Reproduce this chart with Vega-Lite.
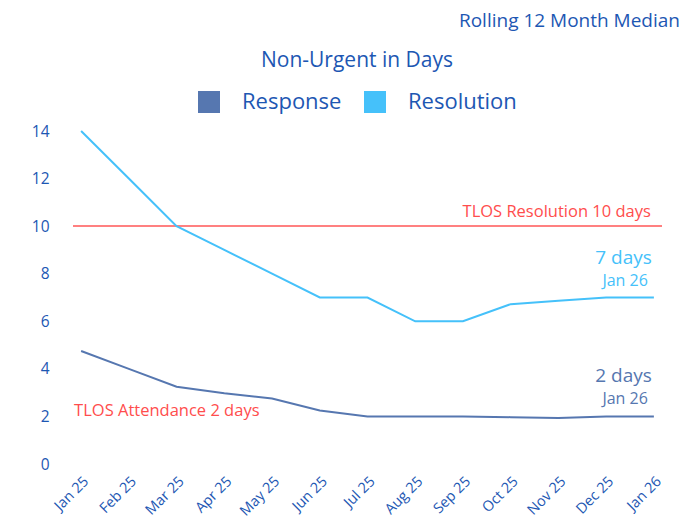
{
  "$schema": "https://vega.github.io/schema/vega-lite/v6.json",
  "width": 589,
  "height": 333,
  "autosize": {"type": "none"},
  "padding": {"left": 73, "top": 131, "right": 18, "bottom": 55},
  "background": "white",
  "config": {
    "font": "Open Sans",
    "view": {"stroke": null},
    "axis": {"labelFont": "Open Sans", "labelColor": "#1d57b3"}
  },
  "title": {
    "text": "Rolling 12 Month Median",
    "anchor": "end",
    "frame": "group",
    "fontSize": 19,
    "fontWeight": "normal",
    "font": "Open Sans",
    "color": "#1d57b3",
    "dx": 18,
    "offset": 19
  },
  "data": {
    "values": [
      {"month": "Jan 25", "series": "Response", "value": 4.75},
      {"month": "Feb 25", "series": "Response", "value": 4.0},
      {"month": "Mar 25", "series": "Response", "value": 3.25},
      {"month": "Apr 25", "series": "Response", "value": 2.97},
      {"month": "May 25", "series": "Response", "value": 2.75},
      {"month": "Jun 25", "series": "Response", "value": 2.25},
      {"month": "Jul 25", "series": "Response", "value": 2.0},
      {"month": "Aug 25", "series": "Response", "value": 2.0},
      {"month": "Sep 25", "series": "Response", "value": 2.0},
      {"month": "Oct 25", "series": "Response", "value": 1.97},
      {"month": "Nov 25", "series": "Response", "value": 1.93},
      {"month": "Dec 25", "series": "Response", "value": 2.0},
      {"month": "Jan 26", "series": "Response", "value": 2.0},
      {"month": "Jan 25", "series": "Resolution", "value": 14.0},
      {"month": "Feb 25", "series": "Resolution", "value": 12.0},
      {"month": "Mar 25", "series": "Resolution", "value": 10.0},
      {"month": "Apr 25", "series": "Resolution", "value": 9.0},
      {"month": "May 25", "series": "Resolution", "value": 8.0},
      {"month": "Jun 25", "series": "Resolution", "value": 7.0},
      {"month": "Jul 25", "series": "Resolution", "value": 7.0},
      {"month": "Aug 25", "series": "Resolution", "value": 6.0},
      {"month": "Sep 25", "series": "Resolution", "value": 6.0},
      {"month": "Oct 25", "series": "Resolution", "value": 6.72},
      {"month": "Nov 25", "series": "Resolution", "value": 6.86},
      {"month": "Dec 25", "series": "Resolution", "value": 7.0},
      {"month": "Jan 26", "series": "Resolution", "value": 7.0}
    ]
  },
  "encoding": {
    "x": {
      "field": "month",
      "type": "ordinal",
      "sort": ["Jan 25", "Feb 25", "Mar 25", "Apr 25", "May 25", "Jun 25", "Jul 25", "Aug 25", "Sep 25", "Oct 25", "Nov 25", "Dec 25", "Jan 26"],
      "scale": {"type": "point", "padding": 0.17},
      "axis": {
        "title": null,
        "labelAngle": -45,
        "labelAlign": "right",
        "labelBaseline": "top",
        "labelFontSize": 14.5,
        "labelPadding": 10,
        "ticks": false,
        "domain": false,
        "grid": false
      }
    },
    "y": {
      "field": "value",
      "type": "quantitative",
      "scale": {"domain": [0, 14], "nice": false, "zero": true},
      "axis": {
        "title": null,
        "values": [0, 2, 4, 6, 8, 10, 12, 14],
        "labelFontSize": 15.5,
        "labelPadding": 24,
        "ticks": false,
        "domain": false,
        "grid": false
      }
    }
  },
  "layer": [
    {
      "mark": {"type": "rule", "color": "#ff8080", "strokeWidth": 1.3},
      "encoding": {"y": {"datum": 10}, "x": null}
    },
    {
      "mark": {"type": "line", "strokeWidth": 2},
      "encoding": {
        "color": {
          "field": "series",
          "type": "nominal",
          "scale": {"domain": ["Response", "Resolution"], "range": ["#5677b0", "#45c1fa"]},
          "legend": {
            "title": "Non-Urgent in Days",
            "titleFontSize": 21,
            "titleFontWeight": "normal",
            "titleColor": "#1d57b3",
            "titleFont": "Open Sans",
            "titleAnchor": "middle",
            "titleOrient": "top",
            "titlePadding": 20,
            "titleLimit": 500,
            "orient": "none",
            "legendX": 125,
            "legendY": -81,
            "direction": "horizontal",
            "symbolType": "square",
            "symbolSize": 484,
            "symbolStrokeWidth": 0,
            "labelFontSize": 22,
            "labelColor": "#1d57b3",
            "labelFont": "Open Sans",
            "labelOffset": 22,
            "labelLimit": 300,
            "columnPadding": 22,
            "encode": {
              "symbols": {
                "update": {
                  "fill": {"scale": "color", "field": "value"},
                  "stroke": {"value": "transparent"},
                  "opacity": {"value": 1}
                }
              }
            }
          }
        }
      }
    },
    {
      "data": {"values": [
        {"month": "Jan 26", "value": 7, "label": "7 days", "series": "Resolution"},
        {"month": "Jan 26", "value": 2, "label": "2 days", "series": "Response"}
      ]},
      "mark": {"type": "text", "align": "right", "baseline": "middle", "dx": -2, "dy": -40, "fontSize": 19, "font": "Open Sans"},
      "encoding": {
        "text": {"field": "label"},
        "color": {"field": "series", "type": "nominal", "legend": null}
      }
    },
    {
      "data": {"values": [
        {"month": "Jan 26", "value": 7, "label": "Jan 26", "series": "Resolution"},
        {"month": "Jan 26", "value": 2, "label": "Jan 26", "series": "Response"}
      ]},
      "mark": {"type": "text", "align": "right", "baseline": "middle", "dx": -6, "dy": -17, "fontSize": 16, "font": "Open Sans"},
      "encoding": {
        "text": {"field": "label"},
        "color": {"field": "series", "type": "nominal", "legend": null}
      }
    },
    {
      "data": {"values": [
        {"month": "Jan 26", "value": 10, "label": "TLOS Resolution 10 days"}
      ]},
      "mark": {"type": "text", "align": "right", "baseline": "middle", "dx": -3, "dy": -14, "fontSize": 16.5, "font": "Open Sans", "color": "#ff4d4d"},
      "encoding": {"text": {"field": "label"}}
    },
    {
      "data": {"values": [
        {"month": "Jan 25", "value": 2, "label": "TLOS Attendance 2 days"}
      ]},
      "mark": {"type": "text", "align": "left", "baseline": "middle", "dx": -7, "dy": -5, "fontSize": 16.5, "font": "Open Sans", "color": "#ff4d4d"},
      "encoding": {"text": {"field": "label"}}
    }
  ]
}
